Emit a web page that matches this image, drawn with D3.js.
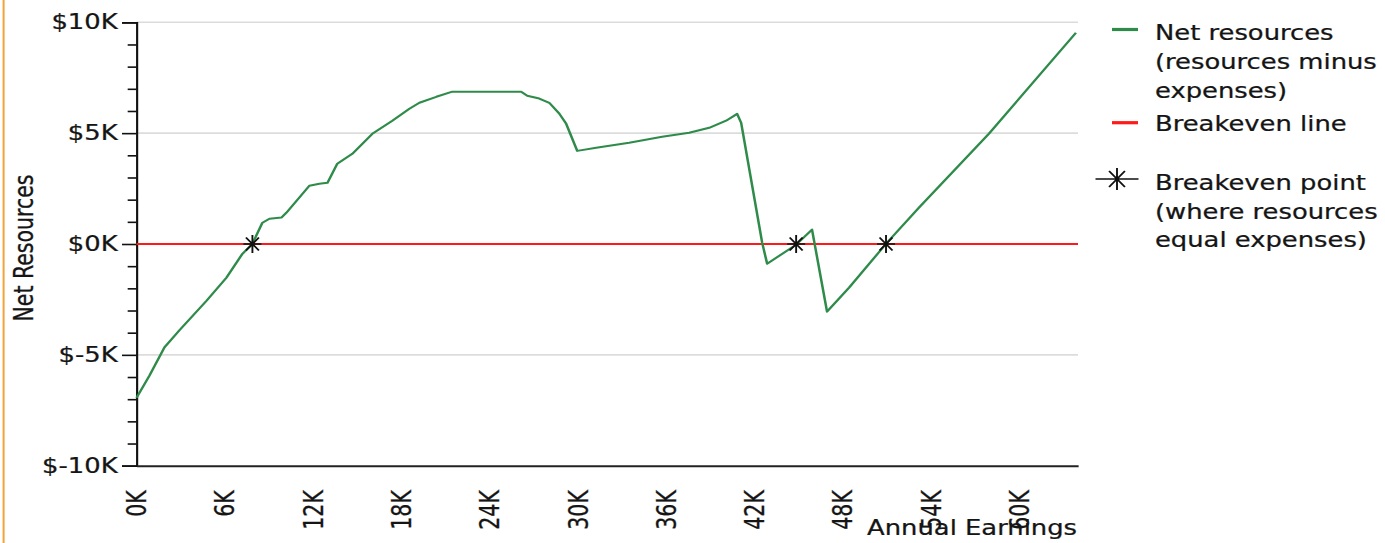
<!DOCTYPE html>
<html>
<head>
<meta charset="utf-8">
<script src="https://cdn.jsdelivr.net/npm/d3@7"></script>
<style>
  html, body { margin: 0; padding: 0; background: #fff; overflow: hidden; }
  text { font-family: "DejaVu Sans", Verdana, sans-serif; fill: #151515; stroke: #151515; stroke-width: 0.25px; }
</style>
</head>
<body>
<svg id="chart"></svg>
<script>
// annual earnings (K) and net resources (K)
const earningsK = [0, 0.88, 1.9, 2.92, 4.76, 6.11, 7.2, 7.88, 8.56, 9.04, 9.85, 10.19, 11.75, 12.43, 12.98,
  13.65, 14.67, 16.03, 17.39, 18.55, 19.23, 20.38, 21.47, 26.15, 26.56, 27.38, 28.06, 28.74, 29.21, 29.96,
  31.25, 33.49, 35.73, 37.57, 38.93, 40.08, 40.83, 41.1, 42.53, 42.87, 44.84, 45.92, 46.94, 48.44, 50.95,
  53.19, 57.95, 63.86];
const netK = [-6.94, -5.94, -4.66, -3.89, -2.56, -1.52, -0.44, 0.01, 0.96, 1.14, 1.19, 1.41, 2.63, 2.72, 2.76,
  3.62, 4.07, 4.97, 5.56, 6.1, 6.37, 6.64, 6.87, 6.87, 6.69, 6.56, 6.37, 5.88, 5.42, 4.2,
  4.34, 4.57, 4.84, 5.02, 5.24, 5.56, 5.87, 5.47, 0.06, -0.89, -0.03, 0.65, -3.05, -1.97, 0.01,
  1.64, 4.98, 9.53];
const breakevenK = [7.88, 44.84, 50.95];
const xTickK = [0, 6, 12, 18, 24, 30, 36, 42, 48, 54, 60];
const legendItems = [
  ["Net resources", "(resources minus", "expenses)"],
  ["Breakeven line"],
  ["Breakeven point", "(where resources", "equal expenses)"]
];

// the picture is stretched sideways, so draw in narrower units and stretch the svg
const SX = 1.26;
const W = 1385 / SX, H = 543;
const fs = 20.5;

const svg = d3.select("#chart")
  .attr("width", 1385).attr("height", 543)
  .attr("viewBox", `0 0 ${W} ${H}`)
  .attr("preserveAspectRatio", "none");

// orange frame edge on the left
svg.append("line")
  .attr("x1", 3.6 / SX).attr("x2", 3.6 / SX).attr("y1", 0).attr("y2", H)
  .attr("stroke", "#f0a43a").attr("stroke-width", 2 / SX);

const x = d3.scaleLinear().domain([0, 64000]).range([136.5 / SX, 1078 / SX]);
const y = d3.scaleLinear().domain([-10000, 10000]).range([465.7, 22.3]);

// grid
svg.append("g").selectAll("line")
  .data([-5000, 5000, 10000])
  .enter().append("line")
  .attr("x1", x(0)).attr("x2", x(64000))
  .attr("y1", d => y(d)).attr("y2", d => y(d))
  .attr("stroke", "#dcdcdc").attr("stroke-width", 1.6);

// y axis
const yAxis = svg.append("g")
  .attr("transform", `translate(${x(0)},0)`)
  .call(d3.axisLeft(y)
    .tickValues(d3.range(-10000, 10001, 1000))
    .tickSizeOuter(0)
    .tickSize(11.5)
    .tickPadding(3.5)
    .tickFormat(d => d % 5000 === 0 ? `$${d / 1000}K` : ""));
yAxis.select(".domain").attr("stroke", "#111").attr("stroke-width", 1.7);
yAxis.selectAll(".tick line")
  .attr("stroke", "#111").attr("stroke-width", 1.6)
  .attr("x2", d => d % 5000 === 0 ? -11.5 : -7);
yAxis.selectAll(".tick text")
  .style("font-size", fs + "px");

// x axis
const xAxis = svg.append("g")
  .attr("transform", `translate(0,${y(-10000)})`)
  .call(d3.axisBottom(x)
    .tickValues(xTickK.map(d => d * 1000))
    .tickSize(0)
    .tickSizeOuter(0)
    .tickFormat(d => `${d / 1000}K`));
xAxis.select(".domain").attr("stroke", "#222").attr("stroke-width", 2);
xAxis.selectAll(".tick text")
  .style("font-size", fs + "px")
  .attr("transform", "rotate(-90)")
  .attr("text-anchor", "end")
  .attr("x", -24.5).attr("y", 0).attr("dy", "0.35em");

// axis titles
svg.append("text")
  .attr("transform", `translate(${33 / SX},248) rotate(-90)`)
  .attr("text-anchor", "middle")
  .style("font-size", fs + "px")
  .text("Net Resources");
svg.append("text")
  .attr("x", 1077 / SX).attr("y", 535)
  .attr("text-anchor", "end")
  .style("font-size", fs + "px")
  .text("Annual Earnings");

// breakeven line
svg.append("line")
  .attr("x1", x(0)).attr("x2", x(64000))
  .attr("y1", y(0)).attr("y2", y(0))
  .attr("stroke", "#ff1a1a").attr("stroke-width", 2.2);

// net resources line
const line = d3.line()
  .x((d, i) => x(earningsK[i] * 1000))
  .y(d => y(d * 1000));
svg.append("path")
  .datum(netK)
  .attr("fill", "none")
  .attr("stroke", "#2e8b4a")
  .attr("stroke-width", 2)
  .attr("stroke-linejoin", "round")
  .attr("d", line);

// star marker
function star(g, rx, ry, hx) {
  const dx = rx * 0.72, dy = ry * 0.72;
  g.append("path")
    .attr("d", `M${-hx},0H${hx}M0,${-ry}V${ry}M${-dx},${-dy}L${dx},${dy}M${-dx},${dy}L${dx},${-dy}`)
    .attr("stroke", "#111").attr("stroke-width", 1.5).attr("fill", "none");
}
breakevenK.forEach(k => {
  const g = svg.append("g").attr("transform", `translate(${x(k * 1000)},${y(0)})`);
  star(g, 9 / SX, 9, 9 / SX);
});

// legend
const lg = svg.append("g");
const textX = 1155 / SX;
lg.append("line")
  .attr("x1", 1112 / SX).attr("x2", 1138 / SX).attr("y1", 29.5).attr("y2", 29.5)
  .attr("stroke", "#2e8b4a").attr("stroke-width", 3.2);
lg.append("line")
  .attr("x1", 1112 / SX).attr("x2", 1138 / SX).attr("y1", 122.7).attr("y2", 122.7)
  .attr("stroke", "#ff1a1a").attr("stroke-width", 3.2);
star(lg.append("g").attr("transform", `translate(${1117 / SX},179)`), 11 / SX, 11, 21.5 / SX);

const legendBase = [[40, 69.5, 98.5], [131.5], [190, 219, 247.5]];
legendItems.forEach((lines, i) => {
  lines.forEach((t, j) => {
    lg.append("text")
      .attr("x", textX).attr("y", legendBase[i][j])
      .style("font-size", fs + "px")
      .text(t);
  });
});
</script>
</body>
</html>
